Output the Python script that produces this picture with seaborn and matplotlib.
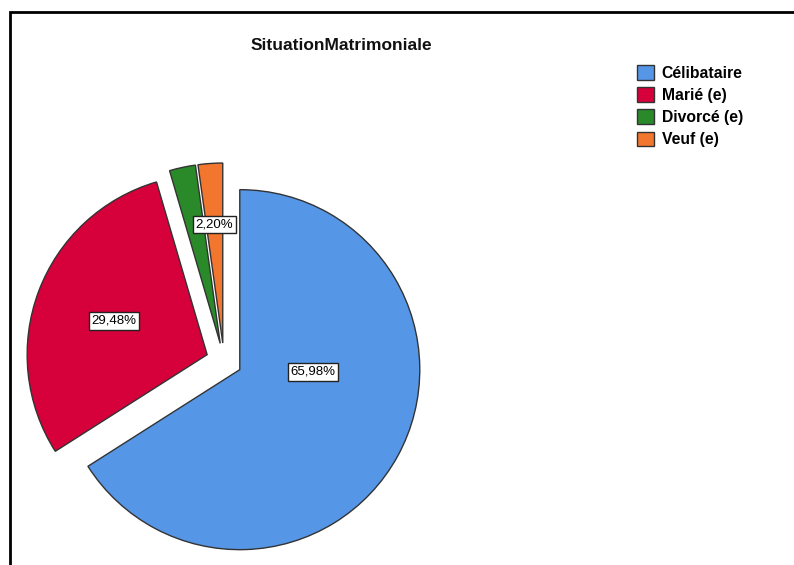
import numpy as np
import matplotlib
matplotlib.use("Agg")
import matplotlib.pyplot as plt
import seaborn as sns
from matplotlib.patches import Rectangle

categories = ["Célibataire", "Marié (e)", "Divorcé (e)", "Veuf (e)"]
percents = [65.98, 29.48, 2.34, 2.20]
shown_labels = ["65,98%", "29,48%", None, "2,20%"]
colors = ["#5596e6", "#d6003a", "#2a8a2a", "#f2762e"]

sns.set_theme(style="white")
plt.rcParams['font.family'] = ['Liberation Sans', 'DejaVu Sans']

fig = plt.figure(figsize=(7.94, 5.65), dpi=100)
ax = fig.add_axes([0, 0, 1, 1])

wedges, _ = ax.pie(percents, colors=sns.color_palette(colors), startangle=90,
                   counterclock=False, explode=[0.1] * 4, radius=1,
                   wedgeprops=dict(edgecolor="#333333", linewidth=1.0))

# pie centre sits at pixel (224, 361) with a 180 px radius
r_px = 180.0
ax.set_xlim(-224 / r_px, (794 - 224) / r_px)
ax.set_ylim(-204 / r_px, (565 - 204) / r_px)
ax.set_aspect('auto')
ax.axis('off')

# label spots (radius fraction, angle in degrees)
label_pos = [(0.50, -7), (0.65, 160), None, (0.76, 94)]
for lab, pos in zip(shown_labels, label_pos):
    if lab is None:
        continue
    rr, ang = pos
    a = np.deg2rad(ang)
    ax.text(rr * np.cos(a), rr * np.sin(a), lab, ha='center', va='center', fontsize=9.5,
            color='black',
            bbox=dict(boxstyle='square,pad=0.2', facecolor='white', edgecolor='#222222', linewidth=1))

fig.text(0.43, 0.92, "SituationMatrimoniale", ha='center', va='center',
         fontsize=12.5, fontweight='bold', color='#111111')

leg = fig.legend(wedges, categories, loc='upper left', bbox_to_anchor=(0.785, 0.91),
                 frameon=False, prop=dict(size=11.3, weight='bold'),
                 handlelength=1.05, handleheight=1.05, handletextpad=0.5, labelspacing=0.42)
for h in leg.legend_handles:
    h.set_edgecolor('#333333')
    h.set_linewidth(1.0)
for t in leg.get_texts():
    t.set_color('black')

# outer frame (only the top and left edges are in view)
fig.patches.append(Rectangle((10 / 794, -0.1), 1.2, 0.1 + (565 - 12) / 565,
                             transform=fig.transFigure, fill=False,
                             edgecolor='black', linewidth=2))

fig.savefig("out.png", dpi=100)
